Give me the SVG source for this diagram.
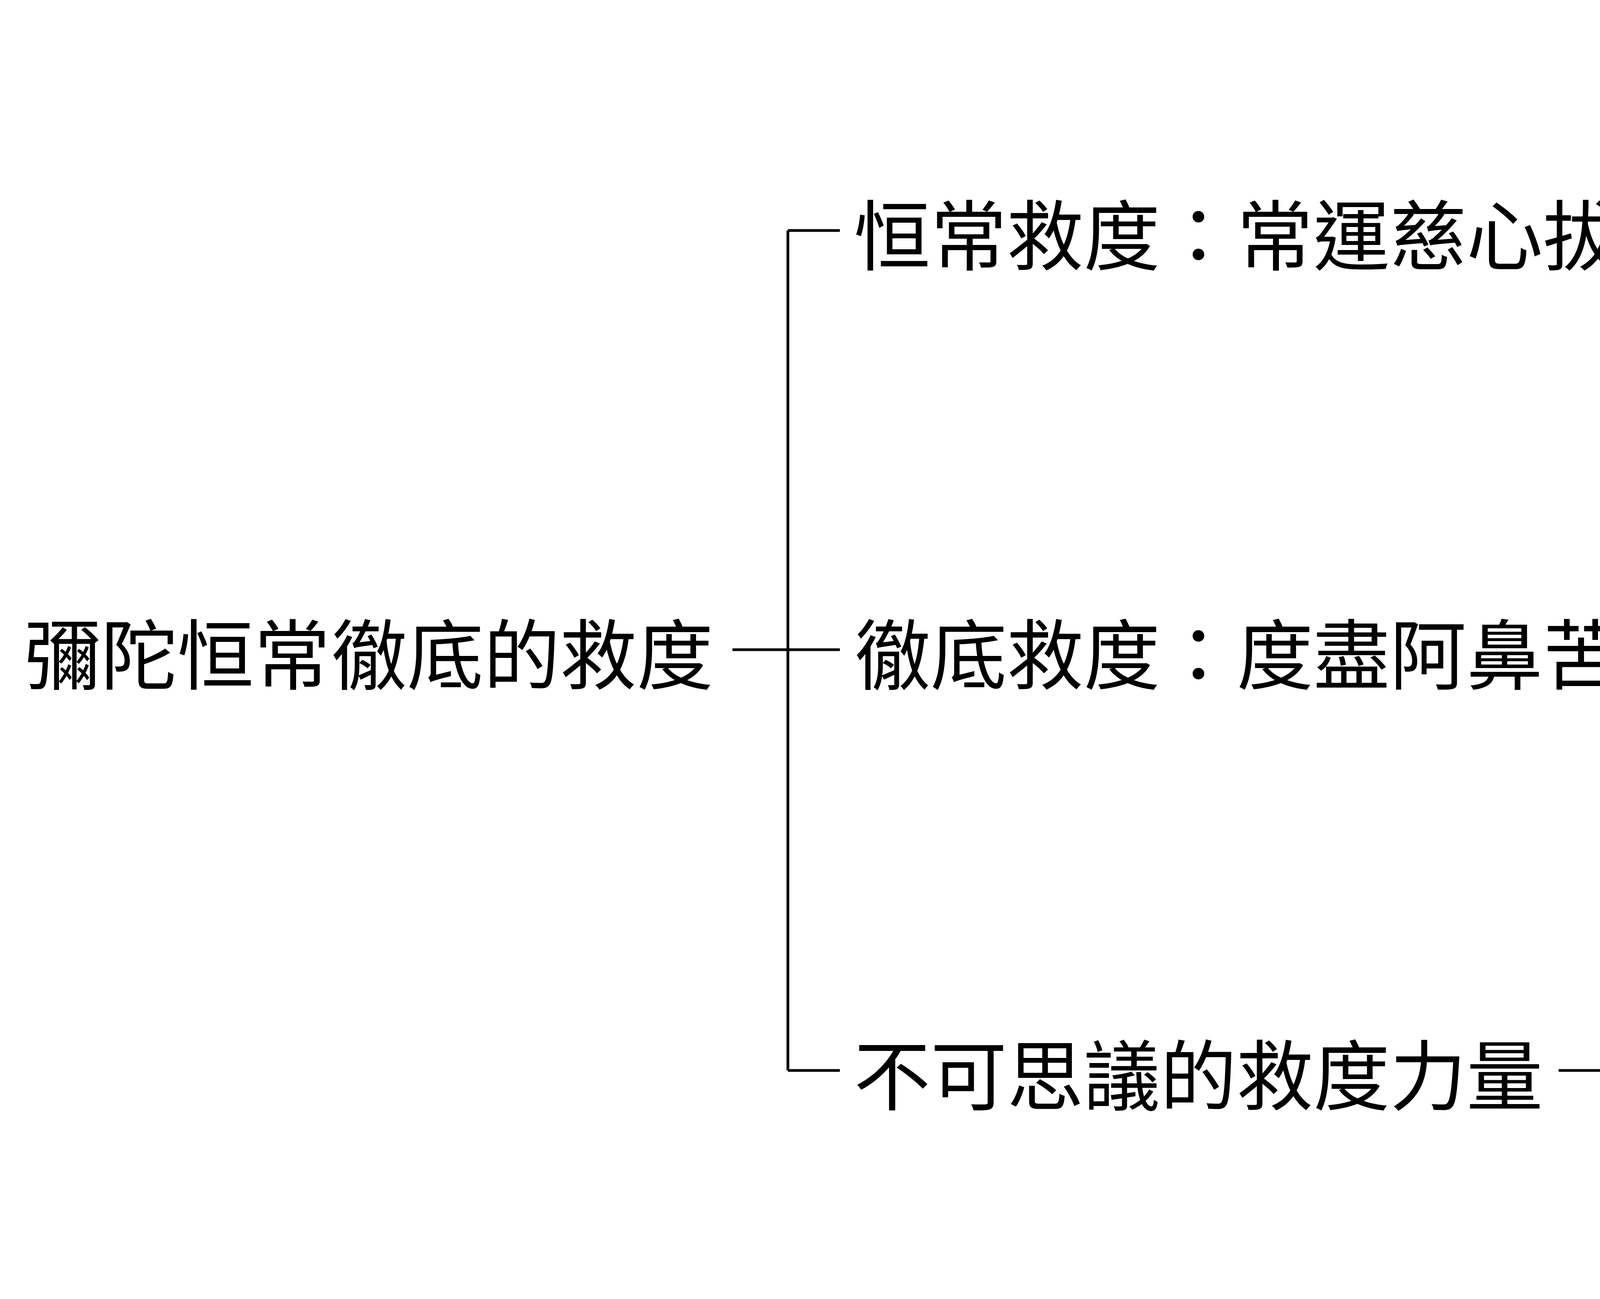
<svg xmlns="http://www.w3.org/2000/svg" width="6952" height="3325" viewBox="0 0 6952 3325">
<style>
text{font-family:"Noto Sans CJK TC","Noto Sans CJK SC",sans-serif;font-size:196px;fill:#000;dominant-baseline:central}
.c{stroke:#000;stroke-width:7;fill:none}
</style>
<rect width="6952" height="3325" fill="#fff"/>
<g id="connectors" class="c">
<path d="M1875 1663H2017M2017 590V2740M2017 590H2150M2017 1663H2150M2017 2740H2150"/>
<path d="M4612 590H4745M4745 244V931M4745 244H4878M4745 931H4878"/>
<path d="M4612 1663H4745M4745 1321V2004M4745 1321H4878M4745 2004H4878"/>
<path d="M3990 2740H4745M4745 2417V3082M4745 2417H4878M4745 3082H4878"/>
</g>
<g id="root"><text x="62" y="1663">彌陀恒常徹底的救度</text></g>
<g id="m1"><text x="2186" y="590">恒常救度：常運慈心拔有情</text></g>
<g id="m2"><text x="2186" y="1663">徹底救度：度盡阿鼻苦眾生</text></g>
<g id="m3"><text x="2186" y="2740">不可思議的救度力量</text></g>
<g id="l1"><text x="4910" y="244">過現未三世恒常不息</text></g>
<g id="l2"><text x="4910" y="590">無緣大慈，同體大悲</text></g>
<g id="l3"><text x="4910" y="931">佛心如太陽恒常照耀</text></g>
<g id="l4"><text x="4910" y="1321">使阿鼻眾生往生成佛</text></g>
<g id="l5"><text x="4910" y="1663">佛為無望者帶來希望</text></g>
<g id="l6"><text x="4910" y="2004">如明醫急救垂死病人</text></g>
<g id="l7"><text x="4910" y="2417">佛智願海非凡夫能測</text></g>
<g id="l8"><text x="4910" y="2740">為阿鼻親人念佛即蒙救</text></g>
<g id="l9"><text x="4910" y="3082">彌陀發願救度三惡道</text></g>
</svg>
